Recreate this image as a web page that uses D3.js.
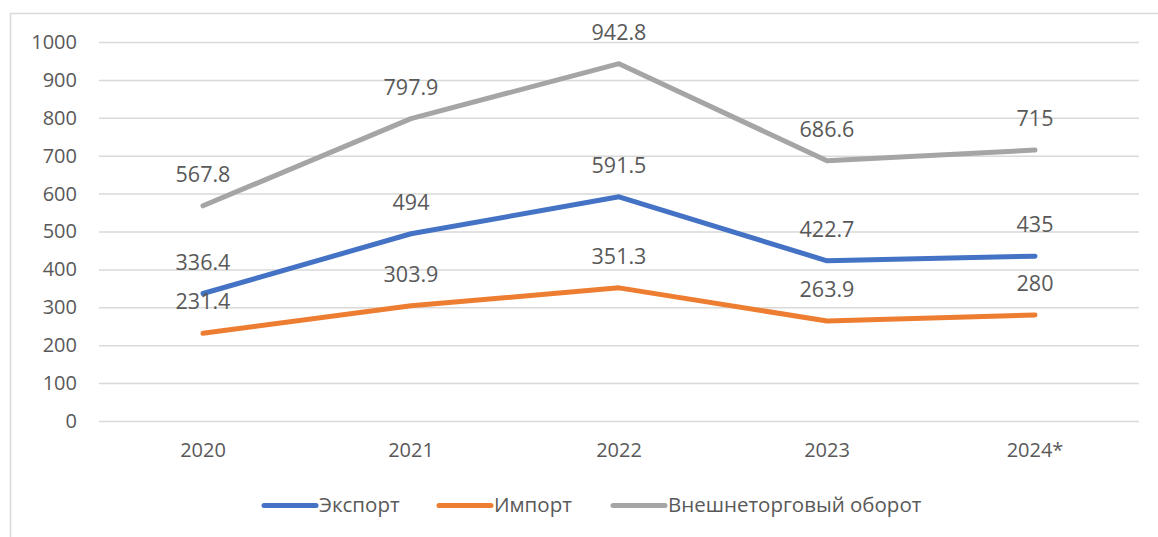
<!DOCTYPE html>
<html>
<head>
<meta charset="utf-8">
<script src="https://cdn.jsdelivr.net/npm/d3@7"></script>
<style>
  body { margin: 0; background: #fff; }
  svg text { font-family: "Open Sans", "Liberation Sans", sans-serif; fill: #595959; }
</style>
</head>
<body>
<div id="chart"></div>
<script>
// chart data
const years = ["2020", "2021", "2022", "2023", "2024*"];
const exportVals = [336.4, 494, 591.5, 422.7, 435];
const importVals = [231.4, 303.9, 351.3, 263.9, 280];
const turnoverVals = [567.8, 797.9, 942.8, 686.6, 715];
const seriesNames = ["Экспорт", "Импорт", "Внешнеторговый оборот"];
const yTicks = [0, 100, 200, 300, 400, 500, 600, 700, 800, 900, 1000];

const width = 1158, height = 537;
const margin = {top: 42, right: 19, bottom: 116, left: 99};

let svg = d3.select("#chart").append("svg")
    .attr("width", width)
    .attr("height", height);

// outer frame (runs off the right/bottom edge)
svg.append("rect")
    .attr("x", 10.5).attr("y", 13.5)
    .attr("width", 1200).attr("height", 600)
    .attr("fill", "none")
    .attr("stroke", "#d9d9d9")
    .attr("stroke-width", 1.5);

let x = d3.scaleBand()
    .domain(years)
    .range([margin.left, width - margin.right]);

let y = d3.scaleLinear()
    .domain([0, 1000])
    .range([height - margin.bottom, margin.top]);

// gridlines + y labels
let yAxis = svg.append("g")
    .attr("transform", "translate(" + margin.left + ",0)")
    .call(d3.axisLeft(y).tickValues(yTicks).tickFormat(d3.format("d"))
        .tickSize(-(width - margin.left - margin.right)).tickPadding(22));
yAxis.select(".domain").remove();
yAxis.selectAll(".tick line").attr("stroke", "#d9d9d9").attr("stroke-width", 1.5);
yAxis.selectAll(".tick text").attr("font-size", 20).style("fill", "#595959");

// x labels
let xAxis = svg.append("g")
    .attr("transform", "translate(0," + y(0) + ")")
    .call(d3.axisBottom(x).tickSize(0).tickPadding(22));
xAxis.select(".domain").remove();
xAxis.selectAll(".tick text").attr("font-size", 20).style("fill", "#595959");

const series = [
    {name: seriesNames[0], values: exportVals, color: "#4472c4"},
    {name: seriesNames[1], values: importVals, color: "#ed7d31"},
    {name: seriesNames[2], values: turnoverVals, color: "#a5a5a5"}
];

let line = d3.line()
    .x((d, i) => x(years[i]) + x.bandwidth() / 2)
    .y(d => y(d));

series.forEach(s => {
    svg.append("path")
        .datum(s.values)
        .attr("d", line)
        .attr("fill", "none")
        .attr("stroke", s.color)
        .attr("stroke-width", 5)
        .attr("stroke-linecap", "round")
        .attr("stroke-linejoin", "round");

    svg.selectAll(null)
        .data(s.values)
        .enter().append("text")
        .attr("x", (d, i) => x(years[i]) + x.bandwidth() / 2)
        .attr("y", d => y(d) - 24)
        .attr("text-anchor", "middle")
        .attr("font-size", 21.5)
        .text(d => d);
});

// legend
const legendX = [264, 439, 613];
let legend = svg.append("g");
series.forEach((s, i) => {
    legend.append("line")
        .attr("x1", legendX[i]).attr("x2", legendX[i] + 52)
        .attr("y1", 505.5).attr("y2", 505.5)
        .attr("stroke", s.color)
        .attr("stroke-width", 5)
        .attr("stroke-linecap", "round");
    legend.append("text")
        .attr("x", legendX[i] + 55)
        .attr("y", 512)
        .attr("font-size", 20.5)
        .text(s.name);
});
</script>
</body>
</html>
